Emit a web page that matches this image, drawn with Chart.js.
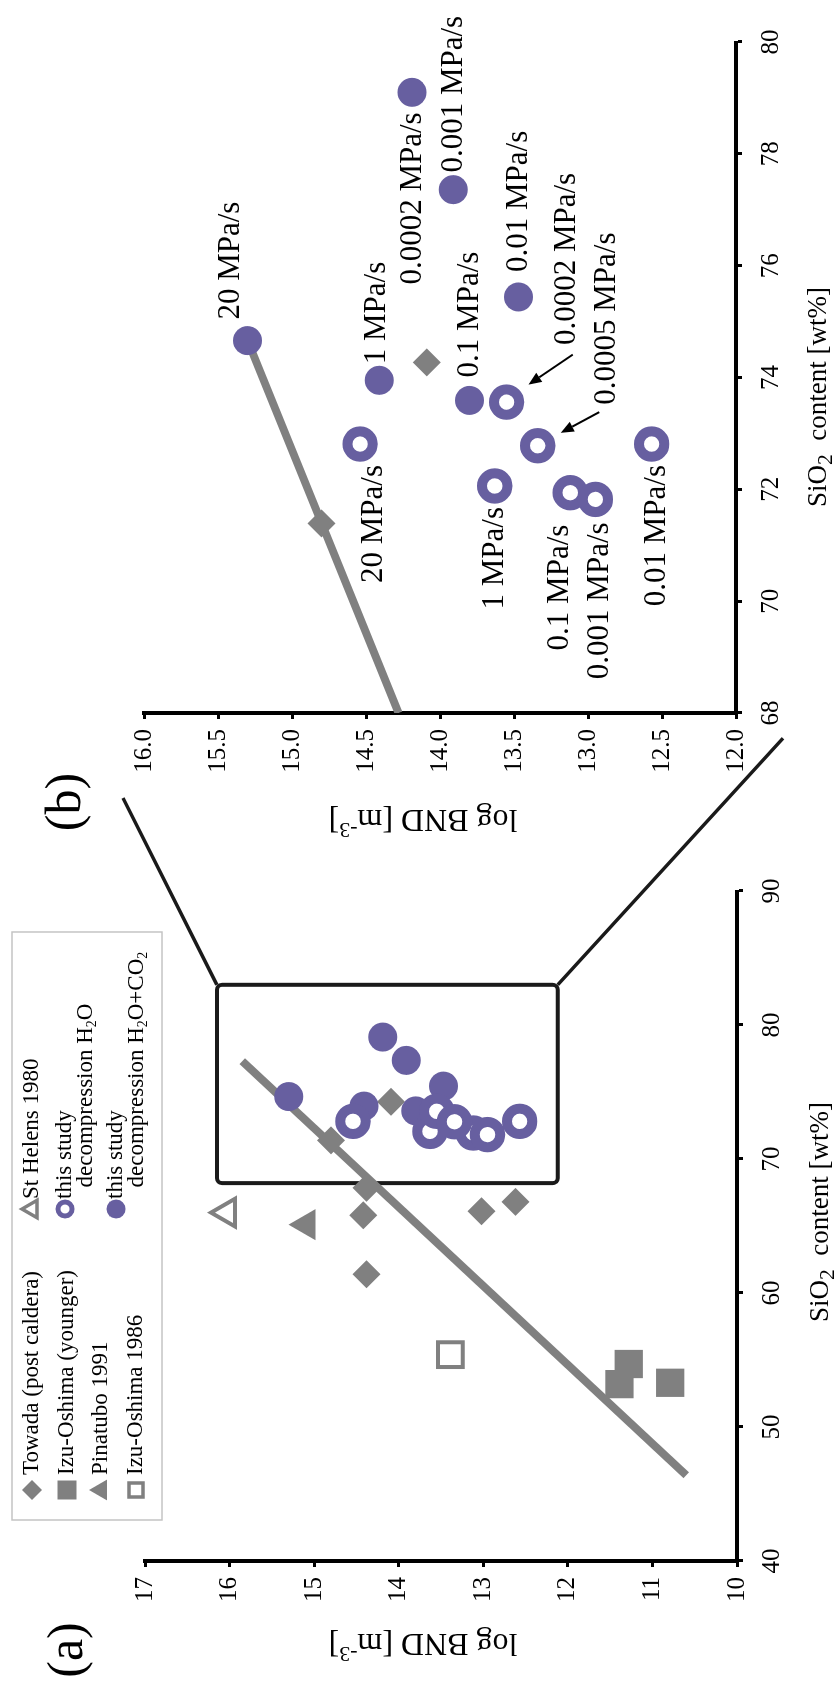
<!DOCTYPE html>
<html>
<head>
<meta charset="utf-8">
<script src="https://cdn.jsdelivr.net/npm/chart.js@4.4.1/dist/chart.umd.min.js"></script>
<style>
  html, body { margin: 0; padding: 0; background: #fff; }
  #page { position: relative; width: 839px; height: 1688px; overflow: hidden; background: #fff; }
  /* the figure is laid out landscape and turned a quarter turn */
  #fig { position: absolute; left: 0; top: 0; width: 1688px; height: 839px;
         transform-origin: 0 0; transform: translate(0, 1688px) rotate(-90deg); }
  #fig canvas { position: absolute; left: 0; top: 0; }
</style>
</head>
<body>
<div id="page"><div id="fig">
  <canvas id="chartA" width="1688" height="839"></canvas>
  <canvas id="chartB" width="1688" height="839"></canvas>
</div></div>
<script>
// ---- natural samples: SiO2 [wt%] and log BND [m^-3] ----
const towadaSiO2 = [74.27, 71.39, 67.85, 65.8, 66.1, 66.8, 61.4];
const towadaBND  = [14.09, 14.80, 14.38, 14.42, 13.02, 12.62, 14.38];
const izuYoungerSiO2 = [54.7, 53.2, 53.3];
const izuYoungerBND  = [11.28, 11.39, 10.79];
const pinatuboSiO2 = [65.1];
const pinatuboBND  = [15.09];
const stHelensSiO2 = [66.0];
const stHelensBND  = [16.03];
const izu1986SiO2 = [55.4];
const izu1986BND  = [13.39];

// ---- decompression experiments (this study) ----
const h2oRates = ['20 MPa/s', '1 MPa/s', '0.1 MPa/s', '0.001 MPa/s', '0.0002 MPa/s', '0.0005 MPa/s', '0.01 MPa/s'];
const h2oSiO2  = [72.81, 72.06, 71.94, 71.82, 73.56, 72.78, 72.81];
const h2oBND   = [14.54, 13.63, 13.12, 12.95, 13.55, 13.34, 12.57];
const co2Rates = ['20 MPa/s', '1 MPa/s', '0.1 MPa/s', '0.01 MPa/s', '0.001 MPa/s', '0.0002 MPa/s'];
const co2SiO2  = [74.66, 73.95, 73.59, 75.44, 77.36, 79.10];
const co2BND   = [15.30, 14.41, 13.80, 13.47, 13.91, 14.19];

// ---- trend line end points ----
const trendA_SiO2 = [46.4, 77.3];
const trendA_BND  = [10.6, 15.85];
const trendB_SiO2 = [68, 74.66];
const trendB_BND  = [14.28, 15.30];

// ---- enlarged window in (a) and its connector ends ----
const windowSiO2 = [68.2, 83];
const windowBND  = [12.12, 16.15];
const connectorSiO2 = [96.94, 101.4];
const connectorBND  = [17.26, 9.456];

// ---- tick labels ----
const ticksA_SiO2 = [40, 50, 60, 70, 80, 90];
const ticksA_BND  = [10, 11, 12, 13, 14, 15, 16, 17];
const ticksB_SiO2 = [68, 70, 72, 74, 76, 78, 80];
const ticksB_BND  = [12, 12.5, 13, 13.5, 14, 14.5, 15, 15.5, 16];

// ---- styling ----
const SERIF = "'Liberation Serif', 'Times New Roman', serif";
const GRAY = '#808080';
const PURPLE = '#675fa0';
const INK = '#000';

// label placement for the rate annotations in (b), in pixels from the point
const h2oLabelPlace = [
  { align: 'right', dx: -21, dy: 14 },
  { align: 'right', dx: -21, dy: 0 },
  { align: 'right', dx: -32, dy: -10 },
  { align: 'right', dx: -23, dy: 4 },
  { align: 'left',  dx: 57,  dy: 60, arrow: [47.5, 66.2, 17.5, 21.9] },
  { align: 'left',  dx: 41,  dy: 69, arrow: [33.6, 61.6, 12.9, 23.1] },
  { align: 'right', dx: -21, dy: 5 }
];
const co2LabelPlace = [
  { align: 'left',  dx: 21, dy: -17 },
  { align: 'left',  dx: 16, dy: -2 },
  { align: 'left',  dx: 23, dy: 0 },
  { align: 'left',  dx: 25, dy: 0 },
  { align: 'left',  dx: 17, dy: 1 },
  { align: 'right', dx: -20, dy: 1 }
];

// title placement: [centre along the axis, distance from the axis line]
const panelTitles = {
  a: { xTitle: [476, 84], yTitle: [423, 81], label: ['(a)', 38, 69] },
  b: { xTitle: [1291, 83], yTitle: [423, 105], label: ['(b)', 886, 67] }
};

// legend layout (drawn inside panel a's canvas)
const legendBox = { x: 168, y: 12, w: 588, h: 150 };
const legendItems = [
  { marker: 'diamond',      mx: 198, my: 32,  tx: 213, lines: [[['Towada (post caldera)', '']]] },
  { marker: 'square',       mx: 198, my: 67,  tx: 213, lines: [[['Izu-Oshima (younger)', '']]] },
  { marker: 'triangle',     mx: 198, my: 101, tx: 213, lines: [[['Pinatubo 1991', '']]] },
  { marker: 'squareOpen',   mx: 198, my: 136, tx: 213, lines: [[['Izu-Oshima 1986', '']]] },
  { marker: 'triangleOpen', mx: 479, my: 32,  tx: 489, lines: [[['St Helens 1980', '']]] },
  { marker: 'circleOpen',   mx: 479, my: 65,  tx: 489, lineGap: 21,
    lines: [[['this study', '']], [['  decompression H', ''], ['2', 'sub'], ['O', '']]] },
  { marker: 'circle',       mx: 479, my: 116, tx: 489, lineGap: 21,
    lines: [[['this study', '']], [['  decompression H', ''], ['2', 'sub'], ['O+CO', ''], ['2', 'sub']]] }
];

const xTitleParts = [['SiO', ''], ['2', 'sub'], ['  content [wt%]', '']];
const yTitleParts = [['log BND [m', ''], ['-3', 'sup'], [']', '']];

function xy(xs, ys) { return xs.map((x, i) => ({ x: x, y: ys[i] })); }
function within(pts, xr, yr) {
  return pts.filter(p => p.x >= xr[0] && p.x <= xr[1] && p.y >= yr[0] && p.y <= yr[1]);
}

// text with sub/superscripts
function drawRich(ctx, parts, x, y, size, align, subScale) {
  const k = subScale || 0.68;
  const seg = parts.map(([t, kind]) => {
    const s = kind ? size * k : size;
    ctx.font = s + 'px ' + SERIF;
    return { t, kind, s, w: ctx.measureText(t).width };
  });
  const total = seg.reduce((a, g) => a + g.w, 0);
  let cx = align === 'center' ? x - total / 2 : align === 'right' ? x - total : x;
  ctx.textAlign = 'left';
  ctx.textBaseline = 'middle';
  seg.forEach(g => {
    ctx.font = g.s + 'px ' + SERIF;
    const dy = g.kind === 'sub' ? size * 0.27 : g.kind === 'sup' ? -size * 0.33 : 0;
    ctx.fillText(g.t, cx, y + dy);
    cx += g.w;
  });
}

function legendMarker(ctx, kind, x, y) {
  ctx.save();
  ctx.fillStyle = GRAY; ctx.strokeStyle = GRAY;
  ctx.beginPath();
  switch (kind) {
    case 'diamond':
      ctx.moveTo(x, y - 10); ctx.lineTo(x + 10, y); ctx.lineTo(x, y + 10); ctx.lineTo(x - 10, y);
      ctx.closePath(); ctx.fill(); break;
    case 'square':
      ctx.rect(x - 9.5, y - 9.5, 19, 19); ctx.fill(); break;
    case 'squareOpen':
      ctx.lineWidth = 3.5; ctx.rect(x - 7, y - 7, 14, 14); ctx.stroke(); break;
    case 'triangle':
    case 'triangleOpen': {
      const r = kind === 'triangle' ? 12 : 10;
      ctx.moveTo(x, y - r); ctx.lineTo(x + 0.866 * r, y + 0.5 * r); ctx.lineTo(x - 0.866 * r, y + 0.5 * r);
      ctx.closePath();
      if (kind === 'triangle') ctx.fill(); else { ctx.lineWidth = 3.5; ctx.stroke(); }
      break;
    }
    case 'circle':
      ctx.fillStyle = PURPLE; ctx.arc(x, y, 9.5, 0, Math.PI * 2); ctx.fill(); break;
    case 'circleOpen':
      ctx.strokeStyle = PURPLE; ctx.lineWidth = 5; ctx.arc(x, y, 7, 0, Math.PI * 2); ctx.stroke(); break;
  }
  ctx.restore();
}

function axis(min, max, tickValues, isX, fmt) {
  return {
    type: 'linear', min: min, max: max, position: isX ? 'bottom' : 'left',
    afterBuildTicks: s => { s.ticks = tickValues.map(v => ({ value: v })); },
    afterFit: s => { if (isX) s.height = 90; else s.width = 90; },
    grid: { drawOnChartArea: false, drawTicks: true, tickLength: 6, tickWidth: 3, tickColor: INK, color: INK },
    border: { display: true, color: INK, width: 4 },
    ticks: { color: INK, font: { family: SERIF, size: 25 }, padding: isX ? 14 : 10,
             autoSkip: false, maxRotation: 0, minRotation: 0, callback: fmt || (v => String(v)) }
  };
}

function drawTitles(chart, t) {
  const ctx = chart.ctx, a = chart.chartArea;
  ctx.save();
  ctx.fillStyle = INK;
  drawRich(ctx, xTitleParts, t.xTitle[0], a.bottom + t.xTitle[1], 27, 'center', 0.8);
  ctx.translate(a.left - t.yTitle[1], t.yTitle[0]);
  ctx.rotate(-Math.PI / 2);
  drawRich(ctx, yTitleParts, 0, 0, 32, 'center', 0.68);
  ctx.restore();
  ctx.save();
  ctx.fillStyle = INK;
  ctx.font = '50px ' + SERIF;
  ctx.textAlign = 'center'; ctx.textBaseline = 'middle';
  ctx.fillText(t.label[0], t.label[1], t.label[2]);
  ctx.restore();
}

function scatterSet(data, style) {
  return Object.assign({ data: data, showLine: false }, style);
}

const openStyle   = { pointStyle: 'circle', pointRadius: 12.7, pointBorderWidth: 10, pointBorderColor: PURPLE, pointBackgroundColor: '#fff' };
const filledStyle = { pointStyle: 'circle', pointRadius: 14.5, pointBorderWidth: 0, pointBackgroundColor: PURPLE, pointBorderColor: PURPLE };
const diamondStyle = { pointStyle: 'rectRot', pointRadius: 14, pointBorderWidth: 0, pointBackgroundColor: GRAY, pointBorderColor: GRAY };
const squareStyle  = { pointStyle: 'rect', pointRadius: 20, pointBorderWidth: 0, pointBackgroundColor: GRAY, pointBorderColor: GRAY };
const triStyle     = { pointStyle: 'triangle', pointRadius: 18, pointBorderWidth: 0, pointBackgroundColor: GRAY, pointBorderColor: GRAY };
const triOpenStyle = { pointStyle: 'triangle', pointRadius: 16, pointBorderWidth: 4, pointBackgroundColor: 'rgba(0,0,0,0)', pointBorderColor: GRAY };
const sqOpenStyle  = { pointStyle: 'rect', pointRadius: 17.5, pointBorderWidth: 4, pointBackgroundColor: 'rgba(0,0,0,0)', pointBorderColor: GRAY };
const trendStyle   = { showLine: true, borderColor: GRAY, borderWidth: 8, pointRadius: 0, borderCapStyle: 'butt', fill: false };

const baseOptions = {
  responsive: false, animation: false, events: [],
  plugins: { legend: { display: false }, tooltip: { enabled: false } }
};

// ---------------- panel (a) ----------------
const panelA = {
  id: 'panelA',
  beforeDatasetsDraw(chart) {
    const ctx = chart.ctx, xs = chart.scales.x, ys = chart.scales.y;
    const x1 = xs.getPixelForValue(windowSiO2[0]), x2 = xs.getPixelForValue(windowSiO2[1]);
    const y1 = ys.getPixelForValue(windowBND[1]), y2 = ys.getPixelForValue(windowBND[0]);
    ctx.save();
    ctx.strokeStyle = '#1a1a1a'; ctx.lineWidth = 4;
    ctx.beginPath();
    if (ctx.roundRect) ctx.roundRect(x1, y1, x2 - x1, y2 - y1, 5); else ctx.rect(x1, y1, x2 - x1, y2 - y1);
    ctx.stroke();
    ctx.restore();
  },
  afterDraw(chart) {
    const ctx = chart.ctx, xs = chart.scales.x, ys = chart.scales.y;
    // connectors from the window to panel (b)
    ctx.save();
    ctx.strokeStyle = '#1a1a1a'; ctx.lineWidth = 3.5; ctx.lineCap = 'butt';
    ctx.beginPath();
    ctx.moveTo(xs.getPixelForValue(windowSiO2[1]), ys.getPixelForValue(windowBND[1]));
    ctx.lineTo(xs.getPixelForValue(connectorSiO2[0]), ys.getPixelForValue(connectorBND[0]));
    ctx.moveTo(xs.getPixelForValue(windowSiO2[1]), ys.getPixelForValue(windowBND[0]));
    ctx.lineTo(xs.getPixelForValue(connectorSiO2[1]), ys.getPixelForValue(connectorBND[1]));
    ctx.stroke();
    ctx.restore();

    drawTitles(chart, panelTitles.a);

    // legend
    ctx.save();
    ctx.strokeStyle = '#c4c4c4'; ctx.lineWidth = 1.5;
    ctx.strokeRect(legendBox.x, legendBox.y, legendBox.w, legendBox.h);
    ctx.fillStyle = INK;
    legendItems.forEach(it => {
      legendMarker(ctx, it.marker, it.mx, it.my);
      it.lines.forEach((parts, i) => {
        drawRich(ctx, parts, it.tx, it.my + i * (it.lineGap || 0), 23, 'left', 0.6);
      });
    });
    ctx.restore();
  }
};

new Chart(document.getElementById('chartA'), {
  type: 'scatter',
  data: {
    datasets: [
      scatterSet(xy(h2oSiO2, h2oBND), openStyle),
      scatterSet(xy(co2SiO2, co2BND), filledStyle),
      scatterSet(xy(towadaSiO2, towadaBND), diamondStyle),
      scatterSet(xy(izuYoungerSiO2, izuYoungerBND), squareStyle),
      scatterSet(xy(pinatuboSiO2, pinatuboBND), triStyle),
      scatterSet(xy(stHelensSiO2, stHelensBND), triOpenStyle),
      scatterSet(xy(izu1986SiO2, izu1986BND), sqOpenStyle),
      Object.assign({ data: xy(trendA_SiO2, trendA_BND) }, trendStyle)
    ]
  },
  options: Object.assign({}, baseOptions, {
    layout: { padding: { left: 37, right: 891, top: 145, bottom: 12 } },
    scales: {
      x: axis(40, 90, ticksA_SiO2, true),
      y: axis(10, 17, ticksA_BND, false)
    }
  }),
  plugins: [panelA]
});

// ---------------- panel (b) ----------------
const rangeB_SiO2 = [ticksB_SiO2[0], ticksB_SiO2[ticksB_SiO2.length - 1]];
const rangeB_BND  = [ticksB_BND[0], ticksB_BND[ticksB_BND.length - 1]];

function drawRateLabels(ctx, xs, ys, sio2, bnd, rates, place) {
  rates.forEach((txt, i) => {
    const px = xs.getPixelForValue(sio2[i]), py = ys.getPixelForValue(bnd[i]);
    const p = place[i];
    ctx.fillStyle = INK;
    ctx.font = '31px ' + SERIF;
    ctx.textAlign = p.align; ctx.textBaseline = 'middle';
    ctx.fillText(txt, px + p.dx, py + p.dy);
    if (p.arrow) {
      const [sx, sy, ex, ey] = p.arrow;
      const x0 = px + sx, y0 = py + sy, x1 = px + ex, y1 = py + ey;
      const ang = Math.atan2(y1 - y0, x1 - x0);
      const head = 13, half = 5.5;
      const bx = x1 - head * Math.cos(ang), by = y1 - head * Math.sin(ang);
      ctx.strokeStyle = INK; ctx.lineWidth = 2;
      ctx.beginPath(); ctx.moveTo(x0, y0); ctx.lineTo(bx, by); ctx.stroke();
      ctx.beginPath();
      ctx.moveTo(x1, y1);
      ctx.lineTo(bx + half * Math.sin(ang), by - half * Math.cos(ang));
      ctx.lineTo(bx - half * Math.sin(ang), by + half * Math.cos(ang));
      ctx.closePath(); ctx.fillStyle = INK; ctx.fill();
    }
  });
}

const panelB = {
  id: 'panelB',
  afterDraw(chart) {
    const ctx = chart.ctx, xs = chart.scales.x, ys = chart.scales.y;
    ctx.save();
    drawRateLabels(ctx, xs, ys, h2oSiO2, h2oBND, h2oRates, h2oLabelPlace);
    drawRateLabels(ctx, xs, ys, co2SiO2, co2BND, co2Rates, co2LabelPlace);
    ctx.restore();
    drawTitles(chart, panelTitles.b);
  }
};

new Chart(document.getElementById('chartB'), {
  type: 'scatter',
  data: {
    datasets: [
      scatterSet(within(xy(h2oSiO2, h2oBND), rangeB_SiO2, rangeB_BND), openStyle),
      scatterSet(within(xy(co2SiO2, co2BND), rangeB_SiO2, rangeB_BND), filledStyle),
      scatterSet(within(xy(towadaSiO2, towadaBND), rangeB_SiO2, rangeB_BND), diamondStyle),
      Object.assign({ data: xy(trendB_SiO2, trendB_BND), clip: 0 }, trendStyle)
    ]
  },
  options: Object.assign({}, baseOptions, {
    layout: { padding: { left: 885, right: 42, top: 144, bottom: 13 } },
    scales: {
      x: axis(68, 80, ticksB_SiO2, true),
      y: axis(12, 16, ticksB_BND, false, v => Number(v).toFixed(1))
    }
  }),
  plugins: [panelB]
});
</script>
</body>
</html>
